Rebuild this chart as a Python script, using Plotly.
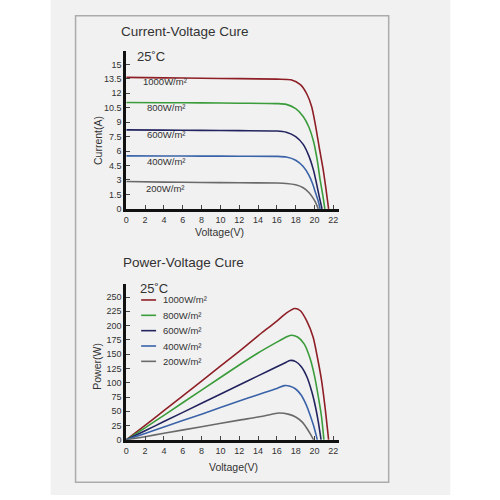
import plotly.graph_objects as go

# ---------------- data ----------------
irradiance = ["1000W/m²", "800W/m²", "600W/m²", "400W/m²", "200W/m²"]
colors = ["#8e1f26", "#3b9c3b", "#23245f", "#3a63a8", "#6a6a6a"]

# Current-Voltage curves
iv_v_1000 = [0, 4, 8, 12, 16, 17.5, 18.5, 19.2, 19.7, 20.1, 20.5, 20.9, 21.2, 21.5]
iv_i_1000 = [13.65, 13.6, 13.56, 13.52, 13.47, 13.4, 12.9, 11.9, 10.6, 8.7, 6.4, 4.2, 2.2, 0]
iv_v_800 = [0, 4, 8, 12, 16, 17, 18, 18.8, 19.4, 19.9, 20.3, 20.6, 20.9, 21.1]
iv_i_800 = [11.05, 11.02, 11.0, 10.97, 10.93, 10.85, 10.4, 9.6, 8.5, 7.0, 5.0, 3.0, 1.3, 0]
iv_v_600 = [0, 4, 8, 12, 16, 17, 18, 18.8, 19.4, 19.9, 20.2, 20.5, 20.8]
iv_i_600 = [8.2, 8.18, 8.15, 8.12, 8.08, 7.95, 7.5, 6.7, 5.5, 4.0, 2.7, 1.3, 0]
iv_v_400 = [0, 4, 8, 12, 16, 17, 18, 18.8, 19.4, 19.8, 20.1, 20.4, 20.6]
iv_i_400 = [5.5, 5.49, 5.48, 5.47, 5.45, 5.38, 5.05, 4.4, 3.5, 2.6, 1.7, 0.8, 0]
iv_v_200 = [0, 4, 8, 12, 16, 17, 18, 18.8, 19.4, 19.8, 20.1, 20.4]
iv_i_200 = [2.85, 2.78, 2.74, 2.71, 2.68, 2.64, 2.5, 2.2, 1.7, 1.2, 0.7, 0]

# Power-Voltage curves
pv_v_1000 = [0, 2, 4, 8, 12, 14, 16, 17, 17.9, 18.5, 19.15, 19.85, 20.3, 20.74, 21.1, 21.5]
pv_p_1000 = [0, 25.5, 51, 103, 155, 182, 208, 222, 230, 226, 209, 180, 145, 105, 60, 0]
pv_v_800 = [0, 2, 4, 8, 12, 14, 16, 17, 17.5, 18.2, 18.9, 19.5, 20.0, 20.4, 20.75, 21.0]
pv_p_800 = [0, 21, 43, 87, 131, 152, 171, 180, 183, 180, 168, 144, 112, 76, 40, 0]
pv_v_600 = [0, 2, 4, 8, 12, 14, 16, 17, 17.4, 18.0, 18.6, 19.2, 19.7, 20.1, 20.4, 20.7]
pv_p_600 = [0, 16, 32, 64, 96, 112, 128, 136, 139, 137, 128, 110, 85, 58, 32, 0]
pv_v_400 = [0, 2, 4, 8, 12, 14, 16, 16.8, 17.4, 18.0, 18.6, 19.1, 19.5, 19.9, 20.3]
pv_p_400 = [0, 11, 22.5, 45, 68, 79, 90, 95, 94, 89, 78, 62, 45, 25, 0]
pv_v_200 = [0, 2, 4, 8, 12, 14, 16, 16.3, 17.2, 18.0, 18.7, 19.2, 19.6, 19.9]
pv_p_200 = [0, 5.5, 11.5, 23, 34.5, 40, 46.5, 47, 45, 40, 31, 20, 9, 0]

iv_series = [(iv_v_1000, iv_i_1000), (iv_v_800, iv_i_800), (iv_v_600, iv_i_600),
             (iv_v_400, iv_i_400), (iv_v_200, iv_i_200)]
pv_series = [(pv_v_1000, pv_p_1000), (pv_v_800, pv_p_800), (pv_v_600, pv_p_600),
             (pv_v_400, pv_p_400), (pv_v_200, pv_p_200)]

x_ticks = list(range(0, 23, 2))
iv_ticks = [0, 1.5, 3, 4.5, 6, 7.5, 9, 10.5, 12, 13.5, 15]
iv_tick_text = ["0", "1.5", "3", "4.5", "6", "7.5", "9", "10.5", "12", "13.5", "15"]
pv_ticks = list(range(0, 251, 25))

FONT = "Arial, Liberation Sans, sans-serif"
TXT = "#333333"


def xp(px):
    return px / 500.0


def yp(py):
    return 1 - py / 500.0


fig = go.Figure()

for (v, i), c in zip(iv_series, colors):
    fig.add_trace(go.Scatter(x=v, y=i, mode="lines", xaxis="x", yaxis="y",
                             line=dict(color=c, width=1.6, shape="spline", smoothing=0.7),
                             showlegend=False, hoverinfo="skip"))
for (v, p), c, name in zip(pv_series, colors, irradiance):
    fig.add_trace(go.Scatter(x=v, y=p, mode="lines", xaxis="x2", yaxis="y2", name=name,
                             line=dict(color=c, width=1.6, shape="spline", smoothing=0.7),
                             showlegend=False, hoverinfo="skip"))

axis_common = dict(showline=True, linecolor="#111111", linewidth=3, ticks="inside",
                   ticklen=4, tickwidth=1, tickcolor="#444444", showgrid=False,
                   zeroline=False, tickfont=dict(family=FONT, size=9, color=TXT))

fig.update_layout(
    width=500, height=500, margin=dict(l=0, r=0, t=0, b=0),
    paper_bgcolor="white", plot_bgcolor="rgba(0,0,0,0)",
    xaxis=dict(domain=[xp(124), xp(338)], range=[0, 22.6], tickvals=x_ticks,
               anchor="y", **axis_common),
    yaxis=dict(domain=[yp(211), yp(52)], range=[0, 16.34], tickvals=iv_ticks,
               ticktext=iv_tick_text, anchor="x", **axis_common),
    xaxis2=dict(domain=[xp(124), xp(338)], range=[0, 22.6], tickvals=x_ticks,
                anchor="y2", **axis_common),
    yaxis2=dict(domain=[yp(444.3), yp(287)], range=[0, 272.6], tickvals=pv_ticks,
                anchor="x2", **axis_common),
)

shapes = [
    dict(type="rect", xref="paper", yref="paper", x0=xp(48), x1=xp(450), y0=0, y1=1,
         fillcolor="#f1f1f1", line=dict(width=0), layer="below"),
    dict(type="rect", xref="paper", yref="paper", x0=xp(73), x1=xp(388), y0=yp(487), y1=yp(16),
         fillcolor="rgba(0,0,0,0)", line=dict(color="#ababab", width=1.5), layer="below"),
]

annotations = []


def txt(text, x, y, size, xanchor="left", angle=0, color=TXT):
    annotations.append(dict(text=text, x=xp(x), y=yp(y), xref="paper", yref="paper",
                            showarrow=False, xanchor=xanchor, yanchor="middle",
                            textangle=angle, font=dict(family=FONT, size=size, color=color)))


txt("Current-Voltage Cure", 117, 32, 13.5)
txt("Power-Voltage Cure", 119, 265, 13.5)
txt("25˚C", 133, 57, 13)
txt("25˚C", 136, 291, 13)
txt("Voltage(V)", 218, 234, 10.5, xanchor="center")
txt("Voltage(V)", 232, 472, 10.5, xanchor="center")
txt("Current(A)", 95, 142, 10.5, xanchor="center", angle=-90)
txt("Power(W)", 95, 370, 10.5, xanchor="center", angle=-90)

# labels on the I-V curves
iv_label_pos = [(139, 82), (143, 109), (143, 136), (143, 163), (142, 190)]
for name, (lx, ly) in zip(irradiance, iv_label_pos):
    txt(name, lx, ly, 9.5)

# legend of the P-V chart
leg_y = [303, 318.5, 334, 349.5, 365]
for name, c, ly in zip(irradiance, colors, leg_y):
    shapes.append(dict(type="line", xref="paper", yref="paper", x0=xp(139), x1=xp(154),
                       y0=yp(ly), y1=yp(ly), line=dict(color=c, width=1.6)))
    txt(name, 159, ly, 9.5)

fig.update_layout(shapes=shapes, annotations=annotations)
fig.write_html("out.html")
